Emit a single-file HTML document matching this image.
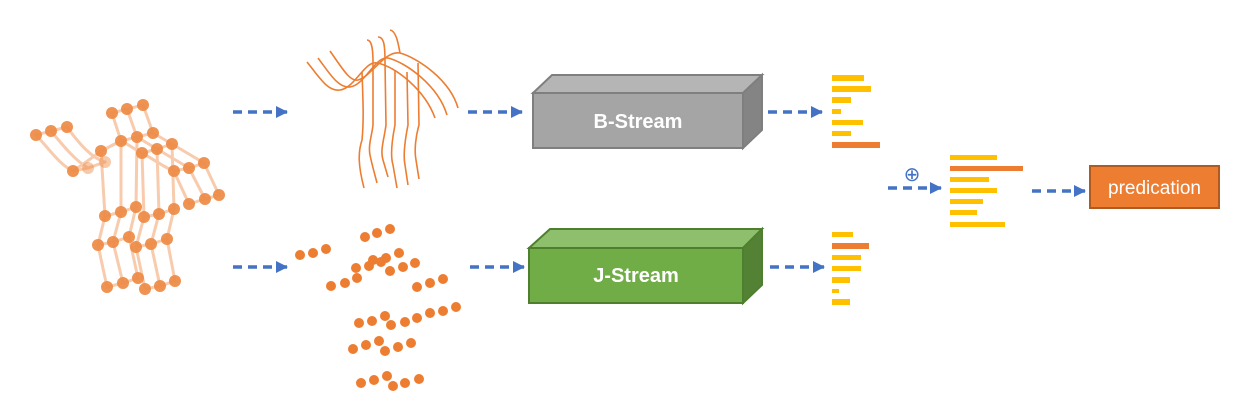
<!DOCTYPE html>
<html><head><meta charset="utf-8"><style>
html,body{margin:0;padding:0;background:#fff;}
svg{display:block;}
text{font-family:"Liberation Sans",Arial,sans-serif;}
</style></head><body>
<svg width="1243" height="404" viewBox="0 0 1243 404" xmlns="http://www.w3.org/2000/svg">
<defs>
<marker id="ah" markerWidth="12" markerHeight="12" refX="11" refY="6" orient="auto" markerUnits="userSpaceOnUse">
<path d="M0,0 L12,6 L0,12 z" fill="#4472c4"/></marker>
</defs>
<g stroke="#f8cbad" stroke-width="3" fill="none" stroke-linecap="round">
<polyline points="36,135 51,131 67,127"/>
<polyline points="112,113 127,109 143,105"/>
<polyline points="73,171 88,168 105,162"/>
<polyline points="101,151 121,141 137,137 153,133"/>
<polyline points="142,153 157,149 172,144"/>
<polyline points="174,171 189,168 204,163"/>
<polyline points="189,204 205,199 219,195"/>
<polyline points="105,216 121,212 136,207"/>
<polyline points="144,217 159,214 174,209"/>
<polyline points="98,245 113,242 129,237"/>
<polyline points="136,247 151,244 167,239"/>
<polyline points="107,287 123,283 138,278"/>
<polyline points="145,289 160,286 175,281"/>
<path d="M36,135 C50,150 60,165 73,171"/>
<path d="M51,131 C65,148 75,160 88,168"/>
<path d="M67,127 C80,145 92,158 105,162"/>
<path d="M73,171 C90,160 100,150 121,141"/>
<path d="M112,113 L121,141"/><path d="M127,109 L137,137"/><path d="M143,105 L153,133"/>
<path d="M121,141 C130,145 135,150 142,153"/><path d="M137,137 L157,149"/><path d="M153,133 L172,144"/>
<path d="M142,153 C155,160 165,168 174,171"/><path d="M157,149 L189,168"/><path d="M172,144 L204,163"/>
<path d="M174,171 C180,185 185,195 189,204"/><path d="M189,168 L205,199"/><path d="M204,163 L219,195"/>
<path d="M101,151 L105,216"/><path d="M121,141 L121,212"/><path d="M137,137 L136,207"/>
<path d="M142,153 L144,217"/><path d="M157,149 L159,214"/><path d="M172,144 L174,209"/>
<path d="M105,216 L98,245"/><path d="M121,212 L113,242"/><path d="M136,207 L129,237"/>
<path d="M144,217 L136,247"/><path d="M159,214 L151,244"/><path d="M174,209 L167,239"/>
<path d="M98,245 L107,287"/><path d="M113,242 L123,283"/><path d="M129,237 L138,278"/>
<path d="M136,247 L145,289"/><path d="M151,244 L160,286"/><path d="M167,239 L175,281"/>
</g>
<g fill="#ee8a45" opacity="0.92">
<circle cx="36" cy="135" r="6"/><circle cx="51" cy="131" r="6"/><circle cx="67" cy="127" r="6"/>
<circle cx="112" cy="113" r="6"/><circle cx="127" cy="109" r="6"/><circle cx="143" cy="105" r="6"/>
<circle cx="73" cy="171" r="6"/><circle cx="88" cy="168" r="6" opacity="0.5"/><circle cx="105" cy="162" r="6" opacity="0.5"/>
<circle cx="101" cy="151" r="6"/><circle cx="121" cy="141" r="6"/><circle cx="137" cy="137" r="6"/><circle cx="153" cy="133" r="6"/>
<circle cx="142" cy="153" r="6"/><circle cx="157" cy="149" r="6"/><circle cx="172" cy="144" r="6"/>
<circle cx="174" cy="171" r="6"/><circle cx="189" cy="168" r="6"/><circle cx="204" cy="163" r="6"/>
<circle cx="189" cy="204" r="6"/><circle cx="205" cy="199" r="6"/><circle cx="219" cy="195" r="6"/>
<circle cx="105" cy="216" r="6"/><circle cx="121" cy="212" r="6"/><circle cx="136" cy="207" r="6"/>
<circle cx="144" cy="217" r="6"/><circle cx="159" cy="214" r="6"/><circle cx="174" cy="209" r="6"/>
<circle cx="98" cy="245" r="6"/><circle cx="113" cy="242" r="6"/><circle cx="129" cy="237" r="6"/>
<circle cx="136" cy="247" r="6"/><circle cx="151" cy="244" r="6"/><circle cx="167" cy="239" r="6"/>
<circle cx="107" cy="287" r="6"/><circle cx="123" cy="283" r="6"/><circle cx="138" cy="278" r="6"/>
<circle cx="145" cy="289" r="6"/><circle cx="160" cy="286" r="6"/><circle cx="175" cy="281" r="6"/>
</g>
<g stroke="#ed7d31" stroke-width="1.6" fill="none">
<path d="M307,62 C320,78 328,92 340,90 C355,88 365,60 377,63 C395,66 425,90 435,118"/>
<path d="M318,58 C330,74 338,88 350,87 C365,85 375,56 388,58 C405,62 438,85 447,115"/>
<path d="M330,51 C342,68 350,82 358,80 C372,76 385,50 400,53 C418,58 450,80 458,108"/>
<path d="M362,72 C363,100 364,120 362,140 C358,152 358,165 364,188"/>
<path d="M367,40 C372,40 373,50 373,62 L373,125 C372,135 368,145 370,155 C372,165 375,175 377,183"/>
<path d="M378,37 C384,37 385,45 385,62 L386,125 C384,140 380,150 383,160 L388,177"/>
<path d="M390,30 C396,31 398,42 400,53"/>
<path d="M395,70 L395,125 C392,140 390,155 393,165 L397,188"/>
<path d="M407,72 L408,125 C405,140 403,155 405,165 L408,185"/>
<path d="M418,63 L419,125 C416,135 414,150 416,160 L419,179"/>
</g>
<g fill="#ed7d31">
<circle cx="300" cy="255" r="5"/><circle cx="313" cy="253" r="5"/><circle cx="326" cy="249" r="5"/>
<circle cx="365" cy="237" r="5"/><circle cx="377" cy="233" r="5"/><circle cx="390" cy="229" r="5"/>
<circle cx="356" cy="268" r="5"/><circle cx="369" cy="266" r="5"/><circle cx="373" cy="260" r="5"/><circle cx="386" cy="258" r="5"/><circle cx="381" cy="262" r="5"/><circle cx="399" cy="253" r="5"/><circle cx="390" cy="271" r="5"/><circle cx="403" cy="267" r="5"/><circle cx="415" cy="263" r="5"/>
<circle cx="331" cy="286" r="5"/><circle cx="345" cy="283" r="5"/><circle cx="357" cy="278" r="5"/>
<circle cx="417" cy="287" r="5"/><circle cx="430" cy="283" r="5"/><circle cx="443" cy="279" r="5"/>
<circle cx="359" cy="323" r="5"/><circle cx="372" cy="321" r="5"/><circle cx="385" cy="316" r="5"/><circle cx="391" cy="325" r="5"/><circle cx="405" cy="322" r="5"/><circle cx="417" cy="318" r="5"/><circle cx="430" cy="313" r="5"/><circle cx="443" cy="311" r="5"/><circle cx="456" cy="307" r="5"/>
<circle cx="353" cy="349" r="5"/><circle cx="366" cy="345" r="5"/><circle cx="379" cy="341" r="5"/><circle cx="385" cy="351" r="5"/><circle cx="398" cy="347" r="5"/><circle cx="411" cy="343" r="5"/>
<circle cx="361" cy="383" r="5"/><circle cx="374" cy="380" r="5"/><circle cx="387" cy="376" r="5"/><circle cx="393" cy="386" r="5"/><circle cx="405" cy="383" r="5"/><circle cx="419" cy="379" r="5"/>
</g>
<g stroke="#4472c4" stroke-width="3.5" stroke-dasharray="9,6" fill="none" marker-end="url(#ah)">
<line x1="233" y1="112" x2="287" y2="112"/>
<line x1="233" y1="267" x2="287" y2="267"/>
<line x1="468" y1="112" x2="522" y2="112"/>
<line x1="470" y1="267" x2="524" y2="267"/>
<line x1="768" y1="112" x2="822" y2="112"/>
<line x1="770" y1="267" x2="824" y2="267"/>
<line x1="888" y1="188" x2="941" y2="188"/>
<line x1="1032" y1="191" x2="1085" y2="191"/>
</g>
<text x="912" y="181" font-size="20" fill="#4472c4" text-anchor="middle">⊕</text>
<polygon points="533,93 552,75 762,75 743,93" fill="#b5b5b5" stroke="#7f7f7f" stroke-width="2"/>
<polygon points="743,93 762,75 762,130 743,148" fill="#848484" stroke="#7f7f7f" stroke-width="2"/>
<rect x="533" y="93" width="210" height="55" fill="#a5a5a5" stroke="#7f7f7f" stroke-width="2"/>
<text x="638" y="128" font-size="20" font-weight="bold" fill="#fff" text-anchor="middle">B-Stream</text>
<polygon points="529,248 550,229 762,229 743,248" fill="#8dbf6c" stroke="#4e7f2e" stroke-width="2"/>
<polygon points="743,248 762,229 762,285 743,303" fill="#548235" stroke="#4e7f2e" stroke-width="2"/>
<rect x="529" y="248" width="214" height="55" fill="#70ad47" stroke="#4e7f2e" stroke-width="2"/>
<text x="636" y="282" font-size="20" font-weight="bold" fill="#fff" text-anchor="middle">J-Stream</text>
<g fill="#ffc000">
<rect x="832" y="75" width="32" height="6"/><rect x="832" y="86" width="39" height="6"/><rect x="832" y="97" width="19" height="6"/><rect x="832" y="109" width="9" height="5"/><rect x="832" y="120" width="31" height="5"/><rect x="832" y="131" width="19" height="5"/>
<rect x="832" y="232" width="21" height="5"/><rect x="832" y="255" width="29" height="5"/><rect x="832" y="266" width="29" height="5"/><rect x="832" y="277" width="18" height="6"/><rect x="832" y="289" width="7" height="4"/><rect x="832" y="299" width="18" height="6"/>
<rect x="950" y="155" width="47" height="5"/><rect x="950" y="177" width="39" height="5"/><rect x="950" y="188" width="47" height="5"/><rect x="950" y="199" width="33" height="5"/><rect x="950" y="210" width="27" height="5"/><rect x="950" y="222" width="55" height="5"/>
</g>
<g fill="#ed7d31">
<rect x="832" y="142" width="48" height="6"/><rect x="832" y="243" width="37" height="6"/><rect x="950" y="166" width="73" height="5"/>
</g>
<rect x="1090" y="166" width="129" height="42" fill="#ed7d31" stroke="#ae5a21" stroke-width="2"/>
<text x="1154.5" y="194" font-size="19" fill="#fff" text-anchor="middle">predication</text>
</svg>
</body></html>
